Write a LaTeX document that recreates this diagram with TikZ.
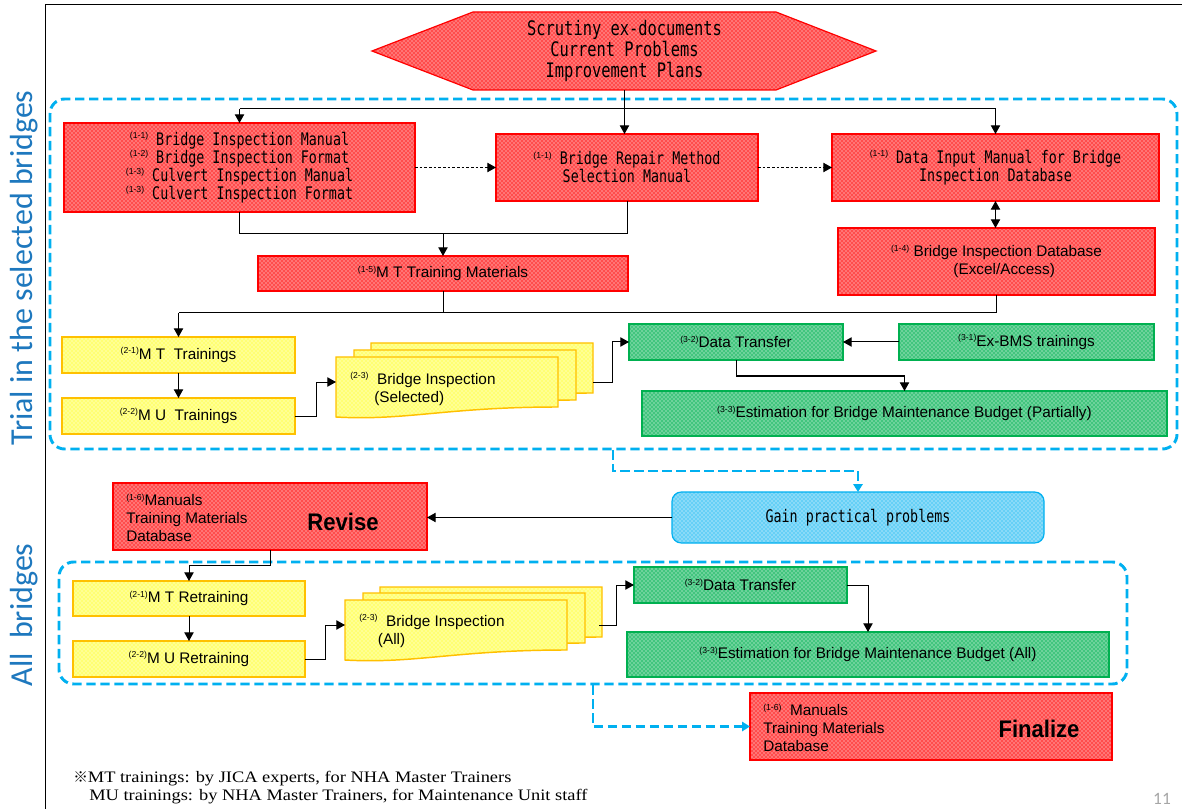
\documentclass[tikz,border=0pt]{standalone}
\usepackage{fontspec}
\setmainfont{Liberation Serif}
\newfontfamily\minch[FakeStretch=1.15]{Liberation Serif}
\newfontfamily\gothic[FakeStretch=0.77]{DejaVu Sans Mono}
\newfontfamily\pgoth{Liberation Sans}
\newfontfamily\bcond[FakeStretch=0.92]{Liberation Sans}
\newfontfamily\calib{Carlito}
\newfontfamily\cjk{Noto Sans CJK JP}
\usetikzlibrary{arrows.meta,patterns,fit,calc}

\definecolor{cy}{RGB}{0,176,240}
\definecolor{lblue}{RGB}{30,120,190}
\definecolor{gold}{RGB}{255,192,0}
\definecolor{grn}{RGB}{0,176,80}
\definecolor{yel}{RGB}{255,255,0}
\definecolor{rd}{RGB}{255,0,0}

\newcommand\supn[1]{\raisebox{0.7ex}{\pgoth\fontsize{6.5}{6.5}\selectfont(#1)}}

\newcommand\docat[3]{%
  \pgfmathsetmacro\dR{#1+222}\pgfmathsetmacro\dB{#2+50}\pgfmathsetmacro\dBL{#2+60}%
  \pgfmathsetmacro\cA{#1+110}\pgfmathsetmacro\cB{#1+70}\pgfmathsetmacro\cAy{#2+50}\pgfmathsetmacro\cBy{#2+64}%
  \path[#3] (#1,#2) -- (\dR,#2) -- (\dR,\dB) .. controls (\cA,\cAy) and (\cB,\cBy) .. (#1,\dBL) -- cycle;}

\tikzset{
  base/.style={inner sep=0pt, outer sep=0pt, line width=0.9pt},
  redfill/.style={draw=rd, line width=0.9pt, preaction={fill=rd!70!white}, preaction={pattern=crosshatch dots, pattern color=white}},
  yelfill/.style={draw=gold, line width=1.1pt, preaction={fill=yel!55!white}, preaction={pattern=crosshatch dots, pattern color=white}},
  redbox/.style={base, redfill},
  yelbox/.style={base, yelfill},
  grnbox/.style={base, draw=grn, preaction={fill=grn!74!white}, preaction={pattern=crosshatch dots, pattern color=white}},
  cybox/.style={base, draw=cy, rounded corners=7pt, preaction={fill=cy!60!white}, preaction={pattern=crosshatch dots, pattern color=white}},
  mono/.style={inner sep=0pt, align=center, font=\gothic\fontsize{13}{13.5}\selectfont},
  prop/.style={inner sep=0pt, align=center, font=\pgoth\fontsize{11.5}{13.5}\selectfont},
  lbl/.style={text=lblue, font=\calib\fontsize{24}{24}\selectfont, inner sep=0pt},
  dashbox/.style={draw=cy, line width=2.2pt, dash pattern=on 7pt off 3.5pt, rounded corners=11pt, inner sep=0pt},
  arr/.style={draw, line width=0.75pt, -{Triangle[length=6.5pt,width=7pt]}},
  darr/.style={draw, line width=0.75pt, dash pattern=on 2pt off 1.5pt, -{Triangle[length=6.5pt,width=7pt]}},
  dblarr/.style={draw, line width=0.75pt, {Triangle[length=6.5pt,width=7pt]}-{Triangle[length=6.5pt,width=7pt]}},
  bluearr/.style={draw=cy, line width=2.2pt, dash pattern=on 7pt off 3.5pt, -{Triangle[length=6pt,width=7pt]}},
  line/.style={draw, line width=0.75pt},
}

\begin{document}
\begin{tikzpicture}[x=0.75pt,y=-0.75pt]
\path[use as bounding box, fill=white] (0,0) rectangle (1182,809);
\draw[line width=0.75pt] (45,812) -- (45,5) -- (1185,5);

% side labels
\node[lbl, rotate=90] (ltrial) at (24,268) {Trial in the selected bridges};
\node[lbl, rotate=90] (lall) at (24,615) {All\ \ bridges};

% dashed group frames
\node[dashbox, fit={(50,99) (1177,449)}] (trial) {};
\node[dashbox, fit={(59,562) (1127,684)}] (all) {};

% hexagon
\path[redfill] (372,51) -- (473,12) -- (776,12) -- (876,51) -- (776,90) -- (473,90) -- cycle;
\node[base, fit={(473,12) (776,90)}] (hex) {};
\node[inner sep=0pt, align=center, font=\gothic\fontsize{15}{15.75}\selectfont] (hext) at (hex.center) {Scrutiny ex-documents\\Current Problems\\Improvement Plans};

% top row
\node[redbox, fit={(64,123) (415,212)}] (b11) {};
\node[mono] (b11t) at (b11.center) {\supn{1-1}\ Bridge Inspection Manual\\\supn{1-2}\ Bridge Inspection Format\\\supn{1-3}\ Culvert Inspection Manual\\\supn{1-3}\ Culvert Inspection Format};
\node[redbox, fit={(496,134) (758,201)}] (brm) {};
\node[mono] (brmt) at (brm.center) {\supn{1-1}\ Bridge Repair Method\\Selection Manual};
\node[redbox, fit={(832,134) (1159,201)}] (bdi) {};
\node[mono] (bdit) at (bdi.center) {\supn{1-1}\ Data Input Manual for Bridge\\Inspection Database};
\node[redbox, fit={(838,228) (1155,295)}] (bdb) {};
\node[prop] (bdbt) at (bdb.center) {\supn{1-4}\ Bridge Inspection Database\\\quad(Excel/Access)};
\node[redbox, fit={(258,256) (628,291)}] (bmt) {};
\node[prop] (bmtt) at (bmt.center) {\supn{1-5}M T Training Materials};

% trial trainings
\node[yelbox, fit={(62,337) (295,373)}] (y21) {};
\node[prop] (y21t) at (y21.center) {\supn{2-1}M T\ \ Trainings};
\node[yelbox, fit={(62,398) (295,434)}] (y22) {};
\node[prop] (y22t) at (y22.center) {\supn{2-2}M U\ \ Trainings};
\docat{371}{343}{yelfill}
\docat{354}{350}{yelfill}
\docat{336}{357}{yelfill}
\node[base, fit={(336,357) (558,410)}] (doc1) {};
\node[prop, anchor=west, align=left] (doc1t) at (350,389) {\supn{2-3}\ \ Bridge Inspection\\\hspace{18pt}(Selected)};
\coordinate (doc1b) at (593,382);

\node[grnbox, fit={(629,324) (843,360)}] (g32) {};
\node[prop] (g32t) at (g32.center) {\supn{3-2}Data Transfer};
\node[grnbox, fit={(899,324) (1154,360)}] (g31) {};
\node[prop] (g31t) at (g31.center) {\supn{3-1}Ex-BMS trainings};
\node[grnbox, fit={(642,391) (1167,436)}] (g33) {};
\node[prop] (g33t) at (g33.center) {\supn{3-3}Estimation for Bridge Maintenance Budget (Partially)};

% middle
\node[cybox, fit={(672,492) (1044,543)}] (gain) {};
\node[mono] (gaint) at (gain.center) {Gain practical problems};
\node[redbox, fit={(113,483) (427,550)}] (rev) {};
\node[prop, anchor=west, align=left] (revL) at (126,518) {\supn{1-6}Manuals\\Training Materials\\Database};
\node[font=\bcond\bfseries\fontsize{18}{18}\selectfont, inner sep=0pt] (revT) at (343,522) {Revise};

% all bridges
\node[yelbox, fit={(73,581) (305,616)}] (y21b) {};
\node[prop] (y21bt) at (y21b.center) {\supn{2-1}M T Retraining};
\node[yelbox, fit={(73,641) (305,677)}] (y22b) {};
\node[prop] (y22bt) at (y22b.center) {\supn{2-2}M U Retraining};
\docat{380}{587}{yelfill}
\docat{363}{593}{yelfill}
\docat{345}{600}{yelfill}
\node[base, fit={(345,600) (567,650)}] (doc2) {};
\node[prop, anchor=west, align=left] (doc2t) at (359,631) {\supn{2-3}\ \ Bridge Inspection\\\hspace{14pt}(All)};
\coordinate (doc2b) at (599,625);

\node[grnbox, fit={(634,567) (847,603)}] (g32b) {};
\node[prop] (g32bt) at (g32b.center) {\supn{3-2}Data Transfer};
\node[grnbox, fit={(627,632) (1109,677)}] (g33b) {};
\node[prop] (g33bt) at (g33b.center) {\supn{3-3}Estimation for Bridge Maintenance Budget (All)};

\node[redbox, fit={(750,693) (1112,760)}] (fin) {};
\node[prop, anchor=west, align=left] (finL) at (763,728) {\supn{1-6}\ \ Manuals\\Training Materials\\Database};
\node[font=\bcond\bfseries\fontsize{18}{18}\selectfont, inner sep=0pt] (finT) at (1039,729) {Finalize};

% footnote and page number
\node[anchor=west, inner sep=0pt, font=\minch\fontsize{12}{12}\selectfont] (fn1) at (73,779) {{\cjk\fontsize{11}{11}\selectfont ※}MT trainings: by JICA experts, for NHA Master Trainers};
\node[anchor=west, inner sep=0pt, font=\minch\fontsize{12}{12}\selectfont] (fn2) at (89,797) {MU trainings: by NHA Master Trainers, for Maintenance Unit staff};
\node[anchor=base, inner sep=0pt, text=gray!70, font=\calib\fontsize{13}{13}\selectfont] (pg) at (1162,804) {11};

% connectors top
\draw[arr] (hex.south) -- (hex.south |- brm.north);
\draw[arr] (b11.north |- 0,109) -- (b11.north);
\draw[arr] (b11.north |- 0,109) -| (bdi.north);
\draw[darr] (b11.east |- brm.west) -- (brm.west);
\draw[darr] (brm.east) -- (bdi.west);
\draw[dblarr] (bdi.south) -- (bdi.south |- bdb.north);
\draw[line] (b11.south) |- (brm.south |- 0,234) -- (brm.south);
\draw[arr] (bmt.north |- 0,234) -- (bmt.north);
\draw[line] (bdb.south) |- (y21.north |- 0,313);
\draw[line] (bmt.south) -- (bmt.south |- 0,313);
\draw[arr] (y21.north |- 0,313) -- (y21.north);
\draw[arr] (y21.south) -- (y22.north);
\draw[arr] (y22.east) -- ++(21,0) |- (doc1.west |- doc1b);
\draw[arr] (doc1b) -- ++(19,0) |- (g32.west);
\draw[arr] (g31.west) -- (g32.east);
\draw[arr] (g32.south) -- (g32.south |- 0,376) -| (g33.north);

% middle connectors
\draw[bluearr] (613,0 |- trial.south) -- (613,471) -| (gain.north);
\draw[arr] (gain.west) -- (gain.west -| rev.east);
\draw[arr] (rev.south) -- ++(0,15) -| (y21b.north);

% bottom connectors
\draw[arr] (y21b.south) -- (y22b.north);
\draw[arr] (y22b.east) -- ++(20,0) |- (doc2.west |- doc2b);
\draw[arr] (doc2b) -- ++(17,0) |- (g32b.west);
\draw[arr] (g32b.east) -| (g33b.north);
\draw[bluearr] (593,0 |- all.south) |- (fin.west);
\end{tikzpicture}
\end{document}
